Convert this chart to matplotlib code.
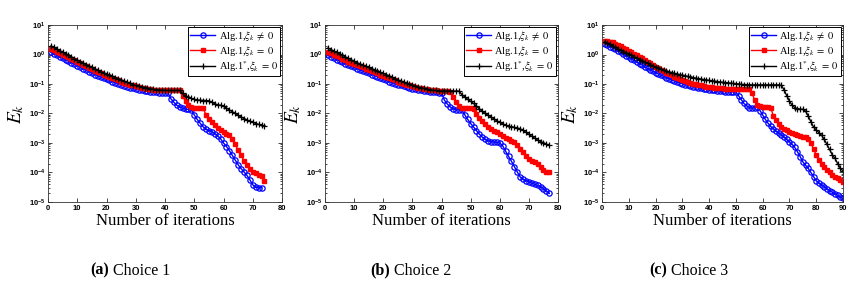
import numpy as np
import matplotlib
matplotlib.use("Agg")
import matplotlib.pyplot as plt
from matplotlib.ticker import FuncFormatter, LogLocator, NullFormatter

## DATA (log10 of E_k, one value per iteration) ##
# Choice 1
c1_blue = [0.07, 0.02, -0.03, -0.08, -0.13, -0.18, -0.23, -0.28, -0.33, -0.38,
           -0.43, -0.48, -0.53, -0.58, -0.63, -0.68, -0.72, -0.76, -0.80, -0.84,
           -0.88, -0.92, -0.96, -0.99, -1.03, -1.06, -1.09, -1.12, -1.15, -1.17,
           -1.19, -1.21, -1.23, -1.25, -1.26, -1.27, -1.28, -1.29, -1.29, -1.30,
           -1.30, -1.50, -1.62, -1.72, -1.78, -1.82, -1.85, -1.86, -1.88, -2.05,
           -2.20, -2.33, -2.45, -2.53, -2.58, -2.62, -2.68, -2.76, -2.86, -3.00,
           -3.12, -3.26, -3.42, -3.58, -3.74, -3.87, -3.98, -4.10, -4.25, -4.42,
           -4.50, -4.52, -4.52]
c1_red = [0.20, 0.15, 0.10, 0.05, 0.00, -0.05, -0.10, -0.15, -0.20, -0.25,
          -0.30, -0.35, -0.40, -0.45, -0.50, -0.55, -0.60, -0.64, -0.68, -0.72,
          -0.76, -0.80, -0.84, -0.88, -0.92, -0.96, -0.99, -1.02, -1.05, -1.08,
          -1.10, -1.12, -1.14, -1.16, -1.18, -1.19, -1.20, -1.21, -1.21, -1.22,
          -1.22, -1.22, -1.22, -1.22, -1.22, -1.42, -1.58, -1.70, -1.78, -1.80,
          -1.80, -1.80, -1.82, -2.05, -2.18, -2.30, -2.40, -2.48, -2.55, -2.62,
          -2.68, -2.74, -2.85, -3.05, -3.25, -3.42, -3.60, -3.75, -3.88, -3.97,
          -4.03, -4.08, -4.12, -4.28]
c1_black = [0.29, 0.24, 0.19, 0.13, 0.08, 0.03, -0.03, -0.08, -0.14, -0.19,
            -0.24, -0.29, -0.34, -0.39, -0.44, -0.49, -0.54, -0.58, -0.62, -0.66,
            -0.70, -0.74, -0.78, -0.82, -0.86, -0.90, -0.94, -0.98, -1.02, -1.05,
            -1.08, -1.10, -1.12, -1.14, -1.16, -1.18, -1.19, -1.20, -1.21, -1.22,
            -1.22, -1.22, -1.22, -1.22, -1.22, -1.32, -1.40, -1.45, -1.49, -1.52,
            -1.54, -1.55, -1.56, -1.56, -1.57, -1.62, -1.67, -1.71, -1.72, -1.76,
            -1.82, -1.88, -1.94, -2.00, -2.06, -2.12, -2.17, -2.22, -2.26, -2.30,
            -2.34, -2.37, -2.40, -2.43]

# Choice 2
c2_blue = [-0.02, -0.07, -0.12, -0.17, -0.22, -0.27, -0.32, -0.36, -0.40, -0.44,
           -0.48, -0.52, -0.56, -0.60, -0.64, -0.68, -0.72, -0.76, -0.80, -0.84,
           -0.88, -0.92, -0.96, -0.99, -1.02, -1.05, -1.08, -1.11, -1.14, -1.16,
           -1.18, -1.20, -1.22, -1.24, -1.25, -1.26, -1.27, -1.28, -1.29, -1.30,
           -1.55, -1.68, -1.78, -1.84, -1.87, -1.88, -1.88, -2.05, -2.20, -2.34,
           -2.46, -2.58, -2.70, -2.80, -2.88, -2.93, -2.96, -2.97, -2.98, -3.00,
           -3.10, -3.28, -3.45, -3.62, -3.80, -3.98, -4.15, -4.23, -4.28, -4.32,
           -4.36, -4.40, -4.44, -4.48, -4.55, -4.63, -4.71]
c2_red = [0.10, 0.05, 0.00, -0.05, -0.10, -0.15, -0.20, -0.24, -0.28, -0.32,
          -0.36, -0.40, -0.44, -0.48, -0.52, -0.56, -0.60, -0.64, -0.68, -0.72,
          -0.76, -0.80, -0.84, -0.88, -0.92, -0.96, -0.99, -1.02, -1.05, -1.08,
          -1.10, -1.12, -1.14, -1.16, -1.18, -1.20, -1.21, -1.22, -1.23, -1.24,
          -1.25, -1.25, -1.26, -1.45, -1.60, -1.74, -1.80, -1.82, -1.83, -1.83,
          -1.85, -2.02, -2.16, -2.26, -2.36, -2.46, -2.54, -2.58, -2.62, -2.70,
          -2.76, -2.83, -2.88, -2.92, -2.98, -3.08, -3.20, -3.32, -3.44, -3.54,
          -3.60, -3.65, -3.70, -3.80, -3.90, -3.97, -4.00]
c2_black = [0.22, 0.17, 0.12, 0.07, 0.02, -0.03, -0.08, -0.13, -0.18, -0.23,
            -0.28, -0.32, -0.36, -0.40, -0.44, -0.48, -0.52, -0.56, -0.60, -0.64,
            -0.68, -0.72, -0.77, -0.82, -0.86, -0.90, -0.94, -0.98, -1.01, -1.04,
            -1.07, -1.10, -1.13, -1.15, -1.17, -1.19, -1.21, -1.22, -1.23, -1.24,
            -1.24, -1.24, -1.24, -1.24, -1.24, -1.24, -1.36, -1.44, -1.52, -1.59,
            -1.66, -1.75, -1.84, -1.93, -2.00, -2.06, -2.12, -2.18, -2.25, -2.30,
            -2.35, -2.40, -2.43, -2.45, -2.47, -2.49, -2.52, -2.57, -2.64, -2.71,
            -2.77, -2.84, -2.90, -2.95, -3.00, -3.04, -3.08]

# Choice 3
c3_blue = [0.36, 0.32, 0.27, 0.23, 0.18, 0.12, 0.07, 0.02, -0.04, -0.09,
           -0.15, -0.20, -0.26, -0.31, -0.36, -0.42, -0.47, -0.52, -0.57, -0.61,
           -0.66, -0.70, -0.74, -0.78, -0.82, -0.86, -0.90, -0.93, -0.96, -0.99,
           -1.02, -1.04, -1.07, -1.09, -1.11, -1.13, -1.15, -1.17, -1.18, -1.20,
           -1.21, -1.22, -1.23, -1.24, -1.25, -1.26, -1.26, -1.27, -1.27, -1.27,
           -1.40, -1.53, -1.66, -1.74, -1.80, -1.82, -1.80, -1.79, -1.90, -2.05,
           -2.20, -2.33, -2.44, -2.52, -2.60, -2.66, -2.72, -2.80, -2.88, -2.96,
           -3.05, -3.15, -3.30, -3.46, -3.64, -3.76, -3.86, -4.00, -4.14, -4.28,
           -4.36, -4.42, -4.48, -4.55, -4.62, -4.67, -4.72, -4.78, -4.84, -4.88]
c3_red = [0.47, 0.46, 0.44, 0.41, 0.37, 0.33, 0.28, 0.23, 0.18, 0.13,
          0.08, 0.03, -0.02, -0.08, -0.13, -0.19, -0.24, -0.30, -0.35, -0.41,
          -0.46, -0.51, -0.56, -0.61, -0.66, -0.71, -0.75, -0.79, -0.83, -0.87,
          -0.90, -0.93, -0.96, -0.99, -1.01, -1.03, -1.05, -1.07, -1.09, -1.10,
          -1.11, -1.12, -1.13, -1.14, -1.15, -1.16, -1.16, -1.17, -1.17, -1.17,
          -1.17, -1.17, -1.17, -1.17, -1.17, -1.30, -1.55, -1.70, -1.76, -1.77,
          -1.78, -1.78, -1.80, -2.08, -2.22, -2.37, -2.47, -2.53, -2.57, -2.62,
          -2.66, -2.70, -2.73, -2.76, -2.79, -2.81, -2.86, -3.00, -3.20, -3.40,
          -3.58, -3.72, -3.82, -3.90, -4.00, -4.08, -4.14, -4.20, -4.27, -4.31]
c3_black = [0.42, 0.38, 0.34, 0.29, 0.24, 0.19, 0.14, 0.10, 0.06, 0.02,
            -0.03, -0.08, -0.13, -0.17, -0.21, -0.26, -0.30, -0.34, -0.38, -0.42,
            -0.45, -0.49, -0.53, -0.56, -0.59, -0.61, -0.64, -0.66, -0.68, -0.70,
            -0.72, -0.74, -0.76, -0.78, -0.80, -0.82, -0.83, -0.85, -0.86, -0.88,
            -0.89, -0.90, -0.92, -0.93, -0.94, -0.95, -0.96, -0.97, -0.98, -0.99,
            -1.00, -1.01, -1.02, -1.02, -1.03, -1.03, -1.03, -1.03, -1.03, -1.03,
            -1.03, -1.03, -1.03, -1.03, -1.03, -1.03, -1.05, -1.20, -1.40, -1.58,
            -1.72, -1.80, -1.84, -1.85, -1.86, -1.92, -2.08, -2.28, -2.46, -2.56,
            -2.65, -2.74, -2.88, -3.05, -3.22, -3.40, -3.52, -3.70, -3.85, -3.95]

labels = [r"Alg.1,$\xi_{k}\;\neq\;0$", r"Alg.1,$\xi_{k}\;=\;0$",
          r"Alg.1$^{*}$,$\xi_{k}\;=\;0$"]
captions = [("(a)", " Choice 1"), ("(b)", " Choice 2"), ("(c)", " Choice 3")]
caption_x = [0.106, 0.433, 0.758]
xmaxes = [80, 80, 90]

# axes boxes in figure fraction [left, bottom, width, height]
boxes = [[0.0561, 0.306, 0.2734, 0.608],
         [0.3797, 0.306, 0.2722, 0.608],
         [0.7033, 0.306, 0.2815, 0.608]]

plt.rcParams["mathtext.fontset"] = "stix"
plt.rcParams["font.family"] = "Liberation Serif"

fig = plt.figure(figsize=(8.56, 2.91), dpi=100)

panels = [(c1_blue, c1_red, c1_black),
          (c2_blue, c2_red, c2_black),
          (c3_blue, c3_red, c3_black)]

def tickfmt(v, pos):
    return r"$\mathregular{10^{%d}}$" % int(round(np.log10(v)))

for i, (blue, red, black) in enumerate(panels):
    ax = fig.add_axes(boxes[i])
    kb = np.arange(1, len(blue) + 1)
    kr = np.arange(1, len(red) + 1)
    kk = np.arange(1, len(black) + 1)
    ax.semilogy(kb, 10.0 ** np.array(blue), color="#0000ff", lw=1.0, marker="o",
                ms=3.8, mfc="none", mew=0.9, label=labels[0])
    ax.semilogy(kr, 10.0 ** np.array(red), color="#ff0000", lw=1.0, marker="s",
                ms=2.6, label=labels[1])
    ax.semilogy(kk, 10.0 ** np.array(black), color="black", lw=1.0, marker="+",
                ms=4.5, mew=0.9, label=labels[2])

    ax.set_xlim(0, xmaxes[i])
    ax.set_ylim(1e-5, 1e1)
    ax.set_xticks(np.arange(0, xmaxes[i] + 1, 10))
    ax.yaxis.set_major_locator(LogLocator(base=10, numticks=10))
    ax.yaxis.set_minor_locator(LogLocator(base=10, subs=np.arange(2, 10), numticks=20))
    ax.yaxis.set_minor_formatter(NullFormatter())
    ax.yaxis.set_major_formatter(FuncFormatter(tickfmt))
    ax.tick_params(which="both", direction="in", top=True, right=True,
                   labelsize=5.5, pad=2, width=0.5)
    ax.tick_params(which="major", length=3)
    ax.tick_params(which="minor", length=1.6)
    for lab in ax.get_xticklabels() + ax.get_yticklabels():
        lab.set_fontfamily("Liberation Sans")
        lab.set_fontweight("bold")
    for sp in ax.spines.values():
        sp.set_linewidth(0.6)
        sp.set_color("#333333")

    ax.set_xlabel("Number of iterations", fontsize=12, labelpad=1)
    ax.set_ylabel(r"$E_k$", fontsize=14, labelpad=2)

    leg = ax.legend(loc="upper right", fontsize=7.5, fancybox=False,
                    framealpha=1, edgecolor="black", borderpad=0.2,
                    handlelength=2.4, handletextpad=0.3, labelspacing=0.1,
                    borderaxespad=0.15)
    leg.get_frame().set_linewidth(0.7)

    # caption under each panel
    t = fig.text(caption_x[i], 0.07, captions[i][0], fontsize=11.5, fontweight="bold",
                 ha="left", va="center")
    fig.canvas.draw()
    bb = t.get_window_extent()
    fig.text(bb.x1 / fig.bbox.width, 0.07, captions[i][1], fontsize=11.5,
             ha="left", va="center")

plt.savefig("out.png", dpi=100)
